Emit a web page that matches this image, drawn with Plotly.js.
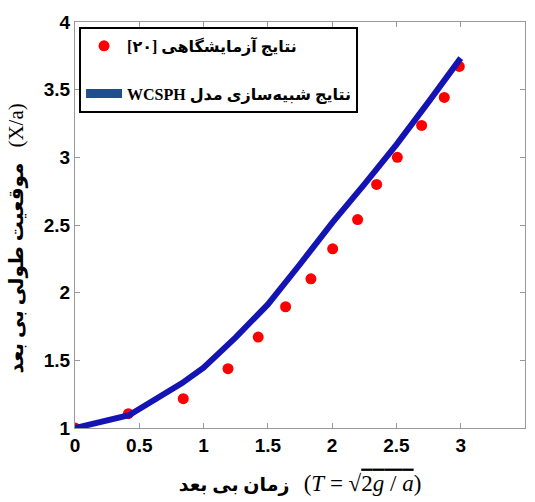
<!DOCTYPE html>
<html><head><meta charset="utf-8">
<script src="https://cdn.plot.ly/plotly-3.0.1.min.js"></script>
<style>html,body{margin:0;padding:0;background:#fff}#chart{width:535px;height:502px}</style>
</head><body><div id="chart"></div>
<script>
// Experimental results [20]
var expT = [0, 0.415, 0.842, 1.19, 1.425, 1.638, 1.835, 2.004, 2.198, 2.346, 2.507, 2.696, 2.872, 2.989];
var expX = [1.0, 1.106, 1.217, 1.438, 1.672, 1.896, 2.102, 2.324, 2.54, 2.8, 3.0, 3.236, 3.443, 3.672];
// WCSPH simulation
var simT = [0, 0.42, 0.83, 1.0, 1.25, 1.5, 1.75, 2.0, 2.25, 2.5, 2.75, 3.0];
var simX = [1.0, 1.094, 1.33, 1.446, 1.67, 1.913, 2.21, 2.516, 2.80, 3.094, 3.41, 3.733];
var xTicks = [0, 0.5, 1, 1.5, 2, 2.5, 3, 3.5];
var yTicks = [1, 1.5, 2, 2.5, 3, 3.5, 4];
var expName = '[۲۰] نتایج آزمایشگاهی';
var simName = 'WCSPH نتایج شبیه‌سازی مدل';

var tickFont = {family: 'Liberation Sans Narrow, Arial Narrow, Liberation Sans, sans-serif', size: 19, color: '#000', weight: 'bold'};
var arFont = 'Liberation Serif, DejaVu Sans, serif';

var traces = [
  {x: expT, y: expX, mode: 'markers', type: 'scatter', name: expName, legendgroup: 'a',
   marker: {color: '#ff0000', size: 11}},
  {x: [null], y: [null], mode: 'lines', type: 'scatter', name: simName, legendgroup: 'b',
   line: {color: '#1f4e8c', width: 9}},
  {x: simT, y: simX, mode: 'lines', type: 'scatter', name: simName, showlegend: false,
   line: {color: '#1414b4', width: 6}}
];

var layout = {
  width: 535, height: 502,
  margin: {l: 75, r: 10, t: 22, b: 74},
  paper_bgcolor: '#fff', plot_bgcolor: '#fff',
  showlegend: true,
  legend: {x: 0.009, y: 0.988, xanchor: 'left', yanchor: 'top',
    bgcolor: '#fff', bordercolor: '#000', borderwidth: 2,
    font: {family: arFont, size: 16, color: '#000', weight: 'bold'},
    tracegroupgap: 24, itemwidth: 36, traceorder: 'grouped'},
  xaxis: {range: [0, 3.5], tickvals: xTicks, ticktext: xTicks.map(String),
    showgrid: false, zeroline: false, showline: true, linecolor: '#999', linewidth: 1,
    mirror: 'ticks', ticks: 'inside', ticklen: 5, tickcolor: '#999',
    tickfont: tickFont,
    title: {text: '<b>زمان بی بعد</b>   <span style="font-family:Liberation Serif;font-size:23px">(<i>T</i> = √<span style="text-decoration:overline">2<i>g</i> / <i>a</i></span>)</span>',
      font: {family: arFont, size: 19, color: '#000'}, standoff: 22}},
  yaxis: {range: [1, 4], tickvals: yTicks, ticktext: yTicks.map(String),
    showgrid: false, zeroline: false, showline: true, linecolor: '#999', linewidth: 1,
    mirror: 'ticks', ticks: 'inside', ticklen: 5, tickcolor: '#999',
    tickfont: tickFont,
    title: {text: '<b>موقعیت طولی بی بعد</b>   <span style="font-family:Liberation Serif;font-size:21px">(X/a)</span><span style="color:#ffffff">----</span>',
      font: {family: arFont, size: 20, color: '#000'}, standoff: 14}}
};
Plotly.newPlot('chart', traces, layout, {displayModeBar: false, staticPlot: true});
</script></body></html>
